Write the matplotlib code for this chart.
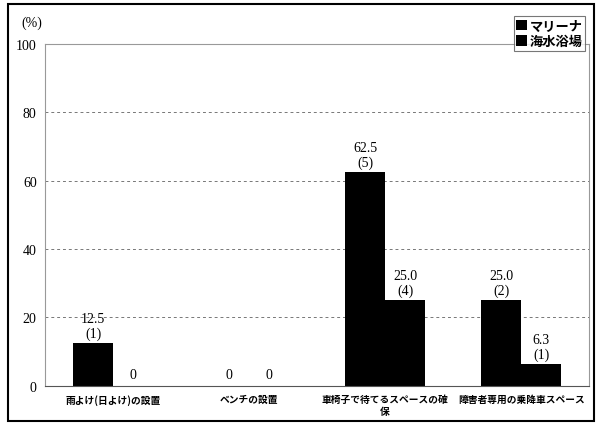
import numpy as np
import matplotlib
matplotlib.use('Agg')
import matplotlib.pyplot as plt
from matplotlib.patches import Rectangle

plt.rcParams['font.family'] = ['Noto Sans CJK JP', 'DejaVu Sans']
num_font = ['Liberation Serif', 'DejaVu Serif']

# データ
categories = ['雨よけ(日よけ)の設置', 'ベンチの設置', '車椅子で待てるスペースの確\n保', '障害者専用の乗降車スペース']
series_names = ['マリーナ', '海水浴場']
marina = [12.5, 0, 62.5, 25.0]
marina_n = [1, 0, 5, 2]
beach = [0, 0, 25.0, 6.3]
beach_n = [0, 0, 4, 1]

fig = plt.figure(figsize=(6, 4.27), dpi=100)
ax = fig.add_axes([0.075, 0.094, 0.907, 0.801])

x = np.arange(len(categories))
w = 0.294
b1 = ax.bar(x - w/2, marina, w, color='black', label=series_names[0])
b2 = ax.bar(x + w/2, beach, w, color='black', label=series_names[1])

def label(bars, vals, ns):
    for r, v, n in zip(bars, vals, ns):
        cx = r.get_x() + r.get_width()/2
        if v == 0:
            ax.text(cx, 1.5, '0', ha='center', va='bottom', fontsize=10, family=num_font)
        else:
            ax.text(cx, v + 1, '%.1f\n(%d)' % (v, n), ha='center', va='bottom',
                    fontsize=10, linespacing=1.15, family=num_font)

label(b1, marina, marina_n)
label(b2, beach, beach_n)

ax.set_xlim(-0.5, len(categories) - 0.5)
ax.set_ylim(0, 100)
ax.set_yticks([0, 20, 40, 60, 80, 100])
ax.set_xticks(x)
ax.set_xticklabels(categories, fontsize=7, fontweight='bold', linespacing=1.2)
ax.tick_params(axis='both', length=0, pad=6)
ax.tick_params(axis='y', labelsize=10)
for t in ax.get_yticklabels():
    t.set_family(num_font)
ax.yaxis.grid(True, linestyle=(0, (3, 3)), color='#777777', linewidth=0.7)
ax.set_axisbelow(True)
for s in ['top', 'right', 'left']:
    ax.spines[s].set_color('#999999')
    ax.spines[s].set_linewidth(0.8)
ax.spines['bottom'].set_color('#555555')

fig.text(0.035, 0.945, '(%)', fontsize=10, ha='left', va='center', family=num_font)

leg = fig.legend(loc='upper right', bbox_to_anchor=(0.975, 0.96), frameon=True,
                 fancybox=False, edgecolor='#555555',
                 prop={'size': 9.5, 'weight': 'bold'},
                 handlelength=0.8, handleheight=0.8, handletextpad=0.2,
                 borderpad=0.2, labelspacing=0.1, borderaxespad=0)
leg.get_frame().set_linewidth(0.8)

fig.patches.append(Rectangle((0.013, 0.012), 0.977, 0.976, transform=fig.transFigure,
                             fill=False, edgecolor='black', linewidth=1.5))

fig.savefig('out.png', dpi=100)
